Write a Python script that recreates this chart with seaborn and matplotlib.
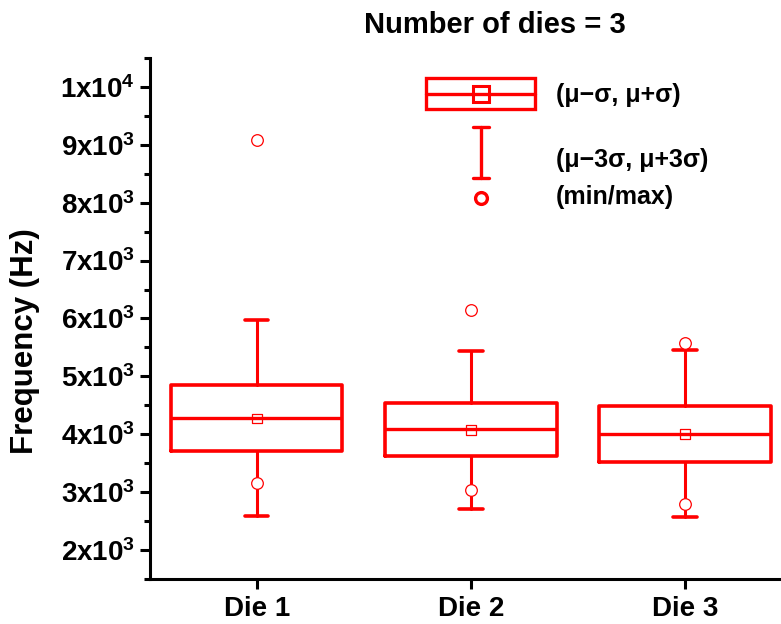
import matplotlib
matplotlib.use('Agg')
import matplotlib.pyplot as plt
import seaborn as sns
import pandas as pd
from matplotlib.patches import Rectangle
from matplotlib.ticker import MultipleLocator

# values (Hz)
dies = ['Die 1', 'Die 2', 'Die 3']
mean = [4274, 4080, 4010]
sd_low = [3715, 3628, 3525]      # mu - sigma
sd_high = [4849, 4533, 4492]     # mu + sigma
median = [4274, 4089, 4003]
whisk_low = [2592, 2703, 2565]   # mu - 3 sigma
whisk_high = [5972, 5442, 5454]  # mu + 3 sigma
min_val = [3157, 3041, 2794]
max_val = [9080, 6144, 5575]

yticks = [2000, 3000, 4000, 5000, 6000, 7000, 8000, 9000, 10000]
ytick_labels = [r'$\mathbf{2x10^{3}}$', r'$\mathbf{3x10^{3}}$', r'$\mathbf{4x10^{3}}$',
                r'$\mathbf{5x10^{3}}$', r'$\mathbf{6x10^{3}}$', r'$\mathbf{7x10^{3}}$',
                r'$\mathbf{8x10^{3}}$', r'$\mathbf{9x10^{3}}$', r'$\mathbf{1x10^{4}}$']

RED = '#ff0000'


def main():
    sns.set_style('ticks', {'axes.edgecolor': 'black', 'text.color': 'black',
                            'axes.labelcolor': 'black', 'xtick.color': 'black',
                            'ytick.color': 'black'})
    plt.rcParams['font.family'] = ['Liberation Sans', 'DejaVu Sans']
    plt.rcParams['font.weight'] = 'bold'
    plt.rcParams['mathtext.fontset'] = 'custom'
    plt.rcParams['mathtext.rm'] = 'Liberation Sans'
    plt.rcParams['mathtext.bf'] = 'Liberation Sans:bold'
    plt.rcParams['mathtext.it'] = 'Liberation Sans:italic'

    pos = list(range(len(dies)))
    df = pd.DataFrame({'pos': pos, 'mean': mean, 'min': min_val, 'max': max_val})

    fig = plt.figure(figsize=(7.81, 6.24), dpi=100)
    ax = fig.add_axes([0.192, 0.0721, 0.808, 0.835])

    stats = []
    for i in range(len(dies)):
        stats.append({'med': median[i], 'q1': sd_low[i], 'q3': sd_high[i],
                      'whislo': whisk_low[i], 'whishi': whisk_high[i],
                      'mean': mean[i], 'fliers': [], 'label': dies[i]})
    ax.bxp(stats, positions=pos, widths=0.8, capwidths=0.11, showfliers=False,
           manage_ticks=False,
           boxprops=dict(color=RED, lw=2.6),
           medianprops=dict(color=RED, lw=2.4),
           whiskerprops=dict(color=RED, lw=2.2),
           capprops=dict(color=RED, lw=2.6))

    sns.scatterplot(data=df, x='pos', y='mean', marker='s', s=50, fc='none',
                    ec=RED, lw=0.9, zorder=5, ax=ax)
    sns.scatterplot(data=df, x='pos', y='min', marker='o', s=70, fc='white',
                    ec=RED, lw=0.9, zorder=5, ax=ax)
    sns.scatterplot(data=df, x='pos', y='max', marker='o', s=70, fc='white',
                    ec=RED, lw=0.9, zorder=5, ax=ax)

    ax.set_xlim(-0.498, 2.448)
    ax.set_ylim(1500, 10500)
    ax.set_xticks(pos, dies)
    ax.set_yticks(yticks, ytick_labels)
    ax.yaxis.set_minor_locator(MultipleLocator(500))
    ax.set_xlabel('')
    ax.set_ylabel('')
    sns.despine(ax=ax)
    for s in ['left', 'bottom']:
        ax.spines[s].set_linewidth(2.2)
        ax.spines[s].set_color('black')
    ax.tick_params(axis='both', which='major', direction='out', width=2.2,
                   length=7.5, labelsize=20, color='black', labelcolor='black')
    ax.tick_params(axis='y', which='major', pad=3.5)
    ax.tick_params(axis='x', which='major', pad=4.5)
    ax.tick_params(axis='y', which='minor', direction='out', width=2.2, length=4,
                   color='black')
    for lab in ax.get_xticklabels():
        lab.set_fontweight('bold')
        lab.set_fontsize(20)

    # legend drawn in a small inset, using pixel-like coordinates
    leg = ax.inset_axes([0.396, 0.699, 0.604, 0.2975])
    leg.set_xlim(400, 781)
    leg.set_ylim(215, 60)
    leg.axis('off')
    leg.add_patch(Rectangle((426, 78.5), 109, 31, fill=False, ec=RED, lw=2.4))
    leg.plot([426, 535], [94, 94], color=RED, lw=2.4)
    leg.plot([481], [94], marker='s', ms=11, mfc='none', mec=RED, mew=2.2)
    leg.plot([481, 481], [127, 178], color=RED, lw=2.4)
    leg.plot([473, 489], [127, 127], color=RED, lw=2.4)
    leg.plot([473, 489], [178, 178], color=RED, lw=2.4)
    leg.plot([481], [198], marker='o', ms=8.5, mfc='white', mec=RED, mew=2.4)
    leg.text(556, 95, '(\u03bc\u2212\u03c3, \u03bc+\u03c3)', va='center', ha='left',
             fontsize=18, fontweight='bold', color='black')
    leg.text(556, 160, '(\u03bc\u22123\u03c3, \u03bc+3\u03c3)', va='center', ha='left',
             fontsize=18, fontweight='bold', color='black')
    leg.text(556, 197, '(min/max)', va='center', ha='left',
             fontsize=18, fontweight='bold', color='black')

    fig.text(495 / 781, 1 - 33 / 624, 'Number of dies = 3', ha='center',
             va='baseline', fontsize=21, fontweight='bold', color='black')
    fig.text(25 / 781, 1 - 341 / 624, 'Frequency (Hz)', rotation=90, ha='center',
             va='center', fontsize=22.5, fontweight='bold', color='black')

    fig.savefig('out.png', dpi=100)


if __name__ == "__main__":
    main()
